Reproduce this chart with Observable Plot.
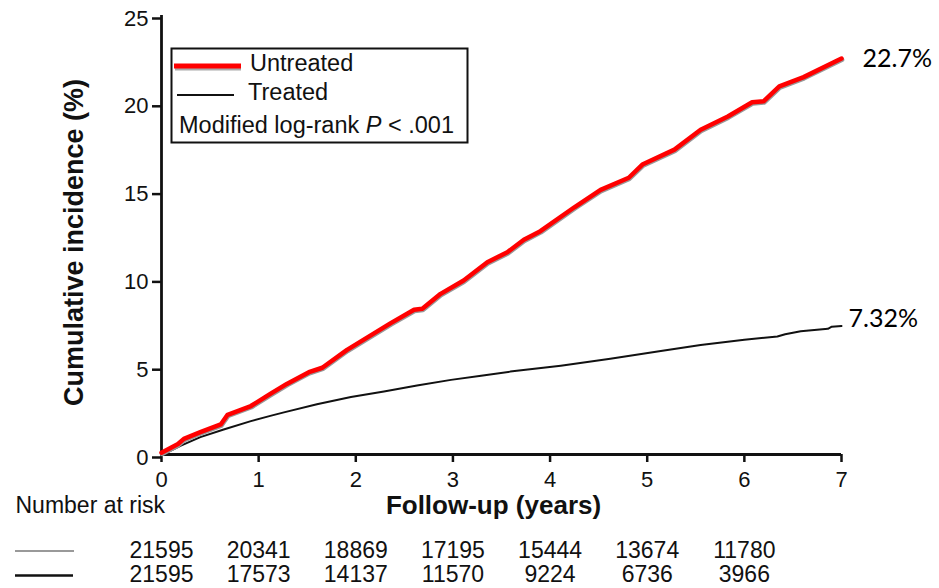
<!DOCTYPE html>
<html>
<head>
<meta charset="utf-8">
<script src="https://cdn.jsdelivr.net/npm/d3@7"></script>
<script src="https://cdn.jsdelivr.net/npm/@observablehq/plot@0.6"></script>
<style>
  html, body { margin: 0; padding: 0; background: #fff; }
  #chart svg { display: block; }
</style>
</head>
<body>
<div id="chart"></div>
<script>
// ---- data ----
const untreatedX = [0, 0.17, 0.23, 0.40, 0.61, 0.68, 0.92, 1.12, 1.29, 1.517, 1.655, 1.91, 2.36, 2.60, 2.685, 2.873, 3.11, 3.354, 3.56, 3.73, 3.90, 4.25, 4.52, 4.81, 4.95, 5.28, 5.55, 5.83, 6.08, 6.20, 6.36, 6.61, 7.0];
const untreatedY = [0.1, 0.6, 0.89, 1.27, 1.71, 2.26, 2.76, 3.45, 4.02, 4.69, 4.94, 5.96, 7.48, 8.24, 8.30, 9.15, 9.91, 10.95, 11.52, 12.23, 12.72, 14.08, 15.07, 15.76, 16.51, 17.36, 18.49, 19.25, 20.06, 20.12, 20.96, 21.49, 22.55];

const treatedX = [0, 0.07, 0.2, 0.4, 0.64, 0.92, 1.12, 1.26, 1.60, 1.95, 2.29, 2.63, 2.98, 3.29, 3.59, 4.11, 4.62, 5.14, 5.55, 6.0, 6.34, 6.42, 6.58, 6.86, 6.9, 7.0];
const treatedY = [0, 0.15, 0.51, 0.99, 1.42, 1.90, 2.20, 2.40, 2.86, 3.27, 3.59, 3.93, 4.25, 4.48, 4.72, 5.06, 5.45, 5.90, 6.24, 6.53, 6.72, 6.85, 7.02, 7.16, 7.28, 7.32];

const xTicks = [0, 1, 2, 3, 4, 5, 6, 7];
const yTicks = [0, 5, 10, 15, 20, 25];

const riskYears = [0, 1, 2, 3, 4, 5, 6];
const riskUntreated = [21595, 20341, 18869, 17195, 15444, 13674, 11780];
const riskTreated = [21595, 17573, 14137, 11570, 9224, 6736, 3966];

const endLabels = ["22.7%", "7.32%"];
const seriesNames = ["Untreated", "Treated"];
const pValueText = ["Modified log-rank ", "P", " < .001"];
const xTitle = "Follow-up (years)";
const yTitle = "Cumulative incidence (%)";
const riskTitle = "Number at risk";

// ---- build tables ----
const untreated = untreatedX.map((x, i) => ({x, y: untreatedY[i]}));
const treated = treatedX.map((x, i) => ({x, y: treatedY[i]}));
const endU = [{x: untreatedX[untreatedX.length - 1], y: untreatedY[untreatedY.length - 1], label: endLabels[0]}];
const endT = [{x: treatedX[treatedX.length - 1], y: treatedY[treatedY.length - 1], label: endLabels[1]}];

const FONT = "'Liberation Sans', Arial, Helvetica, sans-serif";
const intFmt = d => String(d);

const chart = Plot.plot({
  width: 939,
  height: 588,
  marginTop: 15,
  marginBottom: 134,
  marginLeft: 161,
  marginRight: 98,
  style: {fontFamily: FONT, fontSize: "22px", color: "#111", background: "#fff", overflow: "visible"},
  x: {domain: [0, 7], label: null},
  y: {domain: [0, 25], label: null},
  marks: [
    Plot.axisY({ticks: yTicks, tickFormat: intFmt, tickSize: 9, tickPadding: 4, fontSize: 22, strokeWidth: 2.5, dy: 3, label: null}),
    Plot.axisX({ticks: xTicks, tickFormat: intFmt, tickSize: 8, tickPadding: 9, fontSize: 22, strokeWidth: 2.5, label: null}),
    Plot.ruleX([0], {strokeWidth: 2.8, stroke: "#111"}),
    Plot.ruleY([0], {strokeWidth: 2.8, stroke: "#111"}),
    // treated
    Plot.line(treated, {x: "x", y: "y", stroke: "#111", strokeWidth: 2, strokeLinejoin: "round"}),
    // untreated: gray shadow, then red
    Plot.line(untreated, {x: "x", y: "y", stroke: "#999", strokeWidth: 4.5, dx: 0.6, dy: 1.2, strokeLinejoin: "round", strokeLinecap: "round"}),
    Plot.line(untreated, {x: "x", y: "y", stroke: "#ff0000", strokeWidth: 4.5, strokeLinejoin: "round", strokeLinecap: "round"}),
    // end labels
    Plot.text(endU, {x: "x", y: "y", text: "label", textAnchor: "start", lineAnchor: "middle", dx: 21, dy: 0.5, fontSize: 25, fontFamily: "Lato, 'Open Sans', sans-serif", fill: "#000"}),
    Plot.text(endT, {x: "x", y: "y", text: "label", textAnchor: "start", lineAnchor: "middle", dx: 7, dy: -7, fontSize: 25, fontFamily: "Lato, 'Open Sans', sans-serif", fill: "#000"}),
    // axis titles
    Plot.text([yTitle], {frameAnchor: "left", textAnchor: "middle", lineAnchor: "middle", rotate: -90, dx: -87, dy: 7.5, fontSize: 27, fontWeight: "bold", fill: "#111"}),
    Plot.text([xTitle], {frameAnchor: "bottom", textAnchor: "middle", lineAnchor: "middle", dx: -8, dy: 51, fontSize: 26, fontWeight: "bold", fill: "#111"}),
    // number at risk
    Plot.text([riskTitle], {frameAnchor: "bottom-left", textAnchor: "start", lineAnchor: "middle", dx: -146, dy: 51, fontSize: 23, fill: "#111"}),
    Plot.text(riskUntreated, {x: riskYears, text: intFmt, frameAnchor: "bottom", textAnchor: "middle", lineAnchor: "middle", dy: 96.5, fontSize: 23, fill: "#111"}),
    Plot.text(riskTreated, {x: riskYears, text: intFmt, frameAnchor: "bottom", textAnchor: "middle", lineAnchor: "middle", dy: 120, fontSize: 23, fill: "#111"})
  ]
});

document.getElementById("chart").appendChild(chart);

// ---- legend box and risk-table swatches (decorations) ----
const svgSel = d3.select(chart);
const padLeft = 161, padTop = 15;
const g = svgSel.append("g").attr("font-family", FONT).attr("fill", "#111").attr("text-anchor", "start");
g.append("rect").attr("x", padLeft + 10.5).attr("y", padTop + 33.5).attr("width", 296).attr("height", 94)
  .attr("fill", "#fff").attr("stroke", "#111").attr("stroke-width", 2);
// untreated swatch with shadow
g.append("line").attr("x1", padLeft + 14).attr("x2", padLeft + 80).attr("y1", padTop + 53).attr("y2", padTop + 53)
  .attr("stroke", "#aaa").attr("stroke-width", 5);
g.append("line").attr("x1", padLeft + 13).attr("x2", padLeft + 80).attr("y1", padTop + 51).attr("y2", padTop + 51)
  .attr("stroke", "#ff0000").attr("stroke-width", 5);
g.append("text").attr("x", padLeft + 89).attr("y", padTop + 48.5).attr("dy", "0.32em").attr("font-size", 23.5).text(seriesNames[0]);
g.append("line").attr("x1", padLeft + 16).attr("x2", padLeft + 73).attr("y1", padTop + 80).attr("y2", padTop + 80)
  .attr("stroke", "#111").attr("stroke-width", 2);
g.append("text").attr("x", padLeft + 87).attr("y", padTop + 77.5).attr("dy", "0.32em").attr("font-size", 23.5).text(seriesNames[1]);
const pt = g.append("text").attr("x", padLeft + 18).attr("y", padTop + 110).attr("dy", "0.32em").attr("font-size", 23.5);
pt.append("tspan").text(pValueText[0]);
pt.append("tspan").attr("font-style", "italic").text(pValueText[1]);
pt.append("tspan").text(pValueText[2]);
// risk-table row swatches
g.append("line").attr("x1", 15).attr("x2", 74).attr("y1", 551).attr("y2", 551).attr("stroke", "#777").attr("stroke-width", 1.6);
g.append("line").attr("x1", 15).attr("x2", 73).attr("y1", 575.5).attr("y2", 575.5).attr("stroke", "#111").attr("stroke-width", 2.6);
</script>
</body>
</html>
